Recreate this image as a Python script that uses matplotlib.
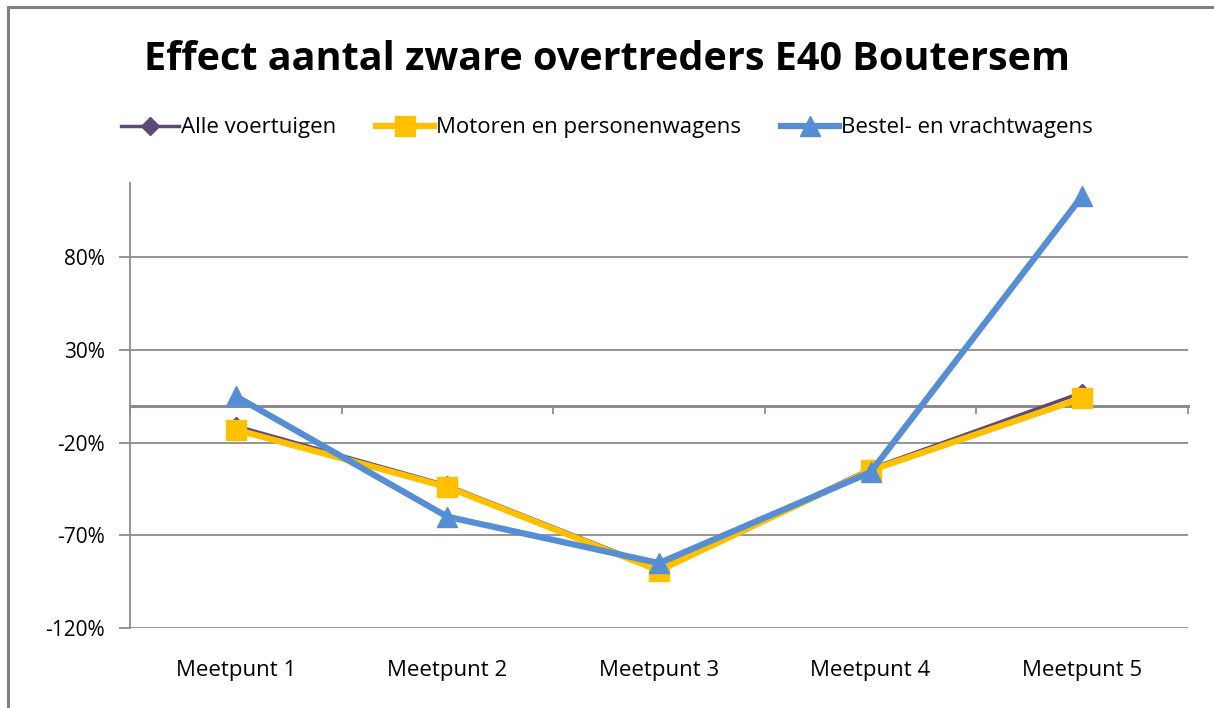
import numpy as np
import matplotlib.pyplot as plt
from matplotlib.lines import Line2D
from matplotlib.ticker import FuncFormatter, MultipleLocator
import matplotlib.transforms as mtransforms

plt.rcParams['font.family'] = ['Open Sans', 'DejaVu Sans']

categories = ['Meetpunt 1', 'Meetpunt 2', 'Meetpunt 3', 'Meetpunt 4', 'Meetpunt 5']
alle = [-11, -43, -88, -34, 7]
motoren = [-13, -44, -89, -35, 4]
bestel = [5, -60, -85, -36, 113]
yticks = [-120, -70, -20, 30, 80]

fig = plt.figure(figsize=(12.14, 7.08), dpi=100)
ax = fig.add_axes([130 / 1214, 1 - 628 / 708, (1188 - 130) / 1214, (628 - 183) / 708])

x = np.arange(len(categories))
ax.plot(x, alle, color='#5f497a', lw=2.5, marker='D', ms=9, label='Alle voertuigen', zorder=3)
ax.plot(x, motoren, color='#ffc000', lw=4.5, marker='s', ms=14, label='Motoren en personenwagens', zorder=4)
ax.plot(x, bestel, color='#558ed5', lw=4.5, marker='^', ms=15, label='Bestel- en vrachtwagens', zorder=5)

ax.set_xlim(-0.5, len(categories) - 0.5)
ax.set_ylim(-120, 120)
ax.set_yticks(yticks)
ax.yaxis.set_major_formatter(FuncFormatter(lambda v, p: f'{v:.0f}%'))
ax.grid(axis='y', color='#8c8c8c', lw=1.3)
ax.tick_params(axis='y', length=8, width=1.3, color='#8c8c8c', labelsize=15, pad=10)

# category axis crosses at 0
ax.spines['bottom'].set_position(('data', 0))
ax.spines['bottom'].set_color('#8c8c8c')
ax.spines['bottom'].set_linewidth(2.2)
ax.spines['left'].set_color('#8c8c8c')
ax.spines['left'].set_linewidth(1.3)
ax.spines['top'].set_visible(False)
ax.spines['right'].set_visible(False)
ax.set_xticks([])
ax.xaxis.set_minor_locator(MultipleLocator(1, offset=0.5))
ax.tick_params(axis='x', which='minor', length=6, width=1.3, color='#8c8c8c', direction='out')
trans = mtransforms.blended_transform_factory(ax.transData, ax.transAxes)
for i, c in enumerate(categories):
    ax.text(i, -0.095, c, transform=trans, ha='center', va='center', fontsize=16)

fig.text(0.5, 1 - 60 / 708, 'Effect aantal zware overtreders E40 Boutersem',
         ha='center', va='center', fontsize=28.5, fontweight='bold')
ax.legend(loc='center', bbox_to_anchor=(0.5, 1 - 128 / 708), bbox_transform=fig.transFigure,
          ncol=3, frameon=False, fontsize=16, handlelength=2.6, columnspacing=1.8,
          handletextpad=0.1)

fig.add_artist(Line2D([8 / 1214, 8 / 1214], [0, 1 - 7 / 708], color='#808080', lw=2.2, transform=fig.transFigure))
fig.add_artist(Line2D([8 / 1214, 1], [1 - 7 / 708, 1 - 7 / 708], color='#808080', lw=2.2, transform=fig.transFigure))

fig.savefig('out.png', dpi=100)
